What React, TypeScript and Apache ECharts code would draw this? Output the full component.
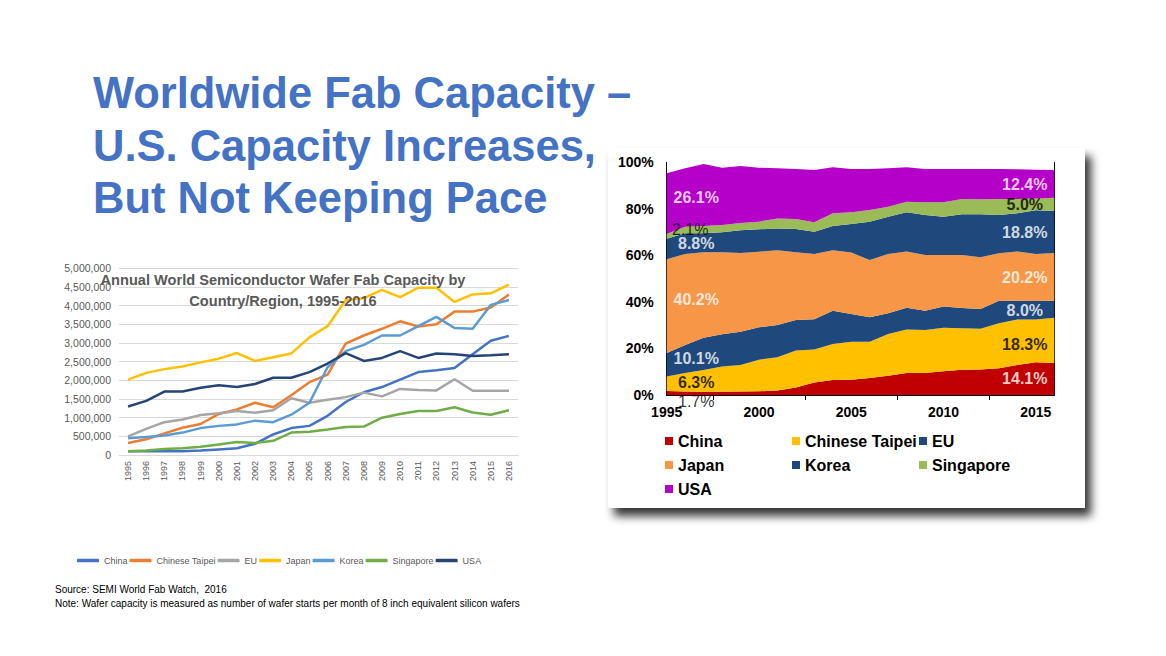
import React, { useEffect, useRef } from 'react';
import * as echarts from 'echarts';

// ---------- Left chart: annual capacity (wafer starts / month) ----------
const years = ['1995','1996','1997','1998','1999','2000','2001','2002','2003','2004','2005','2006','2007','2008','2009','2010','2011','2012','2013','2014','2015','2016'];
const regions = ['China','Chinese Taipei','EU','Japan','Korea','Singapore','USA'];
const capChina = [100000,100000,100000,100000,120000,150000,180000,300000,550000,720000,780000,1050000,1420000,1680000,1820000,2020000,2220000,2270000,2330000,2700000,3060000,3190000];
const capTaipei = [320000,420000,580000,730000,830000,1100000,1220000,1400000,1280000,1600000,1950000,2150000,2980000,3200000,3380000,3580000,3440000,3500000,3840000,3840000,3950000,4300000];
const capEU = [500000,700000,880000,950000,1070000,1120000,1180000,1130000,1200000,1520000,1400000,1480000,1550000,1670000,1570000,1770000,1740000,1730000,2030000,1720000,1720000,1720000];
const capJapan = [2020000,2200000,2300000,2370000,2480000,2580000,2730000,2520000,2620000,2720000,3150000,3450000,4150000,4200000,4420000,4230000,4480000,4480000,4100000,4300000,4330000,4560000];
const capKorea = [450000,480000,520000,600000,720000,780000,820000,920000,880000,1080000,1400000,2350000,2780000,2950000,3200000,3200000,3450000,3700000,3400000,3380000,4020000,4150000];
const capSingapore = [100000,120000,160000,180000,220000,280000,350000,320000,380000,600000,620000,680000,750000,760000,1000000,1100000,1180000,1180000,1280000,1140000,1080000,1200000];
const capUSA = [1300000,1450000,1700000,1700000,1800000,1870000,1820000,1900000,2070000,2070000,2220000,2450000,2730000,2520000,2600000,2780000,2600000,2720000,2700000,2650000,2670000,2700000];

// ---------- Right chart: share of worldwide capacity (%) ----------
const shareYears = [1995,1996,1997,1998,1999,2000,2001,2002,2003,2004,2005,2006,2007,2008,2009,2010,2011,2012,2013,2014,2015,2016];
const shareChina = [1.7,1.5,1.4,1.4,1.5,1.6,1.9,3.2,5.4,6.4,6.6,7.3,8.3,9.5,9.5,10.2,10.9,11.0,11.5,12.9,14.1,13.8];
const shareTaipei = [6.3,8.0,9.3,10.8,11.4,13.6,14.3,15.9,14.1,15.5,16.3,15.6,17.9,18.7,18.4,18.7,17.8,17.5,19.3,19.5,18.3,19.4];
const shareEU = [10.1,12.0,13.9,13.9,14.3,13.9,13.9,13.1,13.0,14.3,11.9,10.5,8.9,9.3,8.3,9.1,8.7,8.5,9.7,8.1,8.0,7.3];
const shareJapan = [40.2,39.1,36.7,35.2,33.8,32.5,32.1,29.1,28.1,26.0,26.4,24.6,25.5,24.2,24.0,22.2,22.8,22.2,20.4,21.2,20.2,20.5];
const shareKorea = [8.8,8.9,8.2,8.6,9.8,9.6,9.4,10.0,9.6,10.4,12.3,16.5,16.0,16.8,17.2,16.4,17.5,18.5,16.5,16.4,18.8,18.1];
const shareSingapore = [2.1,2.8,3.1,3.2,3.1,3.3,4.3,4.3,4.0,5.5,5.0,5.0,4.3,4.6,5.4,6.2,6.5,6.4,6.8,6.1,5.0,5.7];
const shareUSA = [26.1,25.1,26.7,24.6,24.5,23.2,21.5,21.5,22.5,19.8,18.6,17.6,16.5,14.8,14.3,14.3,12.9,13.0,12.9,12.8,12.4,11.9];

const FONT = '"Liberation Sans", Arial, sans-serif';

export default function App() {
  const leftRef = useRef<HTMLDivElement>(null);
  const rightRef = useRef<HTMLDivElement>(null);

  useEffect(() => {
    document.body.style.margin = '0';
    const c1 = echarts.init(leftRef.current!, null, { renderer: 'svg' });
    const c2 = echarts.init(rightRef.current!, null, { renderer: 'svg' });

    const lineColors = ['#4472C4', '#ED7D31', '#A5A5A5', '#FFC000', '#5B9BD5', '#70AD47', '#264478'];
    const capSeries = [capChina, capTaipei, capEU, capJapan, capKorea, capSingapore, capUSA];

    c1.setOption({
      animation: false,
      textStyle: { fontFamily: FONT },
      grid: { left: 119, top: 268.3, width: 399, height: 186.7 },
      xAxis: {
        type: 'category',
        data: years,
        axisLine: { lineStyle: { color: '#D9D9D9' } },
        axisTick: { show: false },
        axisLabel: { rotate: 90, fontSize: 9, color: '#595959', margin: 6, fontFamily: FONT },
      },
      yAxis: {
        type: 'value',
        min: 0,
        max: 5000000,
        interval: 500000,
        axisLine: { show: false },
        axisTick: { show: false },
        axisLabel: {
          fontSize: 10.5,
          color: '#595959',
          margin: 8,
          fontFamily: FONT,
          formatter: (v: number) => v.toLocaleString('en-US'),
        },
        splitLine: { lineStyle: { color: '#D9D9D9' } },
      },
      legend: {
        left: 72,
        top: 551,
        icon: 'roundRect',
        itemWidth: 22,
        itemHeight: 3.5,
        itemGap: 2,
        data: regions,
        textStyle: { fontSize: 9, color: '#595959', fontFamily: FONT },
      },
      series: regions.map((name, k) => ({
        name,
        type: 'line',
        data: capSeries[k],
        symbol: 'none',
        lineStyle: { width: 2.5, color: lineColors[k] },
        itemStyle: { color: lineColors[k] },
        emphasis: { disabled: true },
      })),
      graphic: [
        { type: 'text', x: 93, y: 93, z: 100, style: { text: 'Worldwide Fab Capacity –', font: `bold 43.5px ${FONT}`, fill: '#4472C4', verticalAlign: 'middle' } },
        { type: 'text', x: 93, y: 146, z: 100, style: { text: 'U.S. Capacity Increases,', font: `bold 43.5px ${FONT}`, fill: '#4472C4', verticalAlign: 'middle' } },
        { type: 'text', x: 93, y: 198, z: 100, style: { text: 'But Not Keeping Pace', font: `bold 43.5px ${FONT}`, fill: '#4472C4', verticalAlign: 'middle' } },
        { type: 'text', x: 283, y: 280, z: 100, style: { text: 'Annual World Semiconductor Wafer Fab Capacity by', font: `bold 14.6px ${FONT}`, fill: '#595959', align: 'center', verticalAlign: 'middle' } },
        { type: 'text', x: 283, y: 301, z: 100, style: { text: 'Country/Region, 1995-2016', font: `bold 14.6px ${FONT}`, fill: '#595959', align: 'center', verticalAlign: 'middle' } },
        { type: 'text', x: 55, y: 589, z: 100, style: { text: 'Source: SEMI World Fab Watch,  2016', font: `10px ${FONT}`, fill: '#000', verticalAlign: 'middle' } },
        { type: 'text', x: 55, y: 603, z: 100, style: { text: 'Note: Wafer capacity is measured as number of wafer starts per month of 8 inch equivalent silicon wafers', font: `10px ${FONT}`, fill: '#000', verticalAlign: 'middle' } },
      ],
    });

    // ---------- Right chart ----------
    const areaColors = ['#C00000', '#FFC000', '#1F497D', '#F79646', '#1F497D', '#9BBB59', '#B400C8'];
    const shareSeries = [shareChina, shareTaipei, shareEU, shareJapan, shareKorea, shareSingapore, shareUSA];
    const midAt = (k: number, i: number) => {
      let base = 0;
      for (let j = 0; j < k; j++) base += shareSeries[j][i];
      return base + shareSeries[k][i] / 2;
    };
    const leftColors = ['#000', '#000', '#fff', '#fff', '#fff', '#000', '#fff'];
    const rightColors = ['#fff', '#000', '#fff', '#fff', '#fff', '#000', '#fff'];
    const firstIdx = 0;
    const lastLabelIdx = shareYears.indexOf(2015);
    const labelData: any[] = [];
    regions.forEach((_, k) => {
      labelData.push({
        name: shareSeries[k][firstIdx].toFixed(1) + '%',
        value: [shareYears[firstIdx] + 1.6, midAt(k, firstIdx + 1)],
        label: {
          color: leftColors[k],
          fontWeight: k === 0 || k === 5 ? 'normal' : 'bold',
          offset: k === 0 ? [0, 8] : k === 5 ? [-6, -1] : [0, 0],
        },
      });
      labelData.push({
        name: shareSeries[k][lastLabelIdx].toFixed(1) + '%',
        value: [shareYears[lastLabelIdx] - 0.6, midAt(k, lastLabelIdx)],
        label: { color: rightColors[k], fontWeight: 'bold', offset: k === 1 ? [0, 4] : [0, 0] },
      });
    });

    const legendCommon = {
      orient: 'vertical',
      icon: 'rect',
      itemWidth: 8,
      itemHeight: 8,
      itemGap: 8,
      textStyle: { fontSize: 16, fontWeight: 'bold', color: '#000', fontFamily: FONT },
    };

    c2.setOption({
      animation: false,
      textStyle: { fontFamily: FONT },
      grid: { left: 666.7, top: 162.3, width: 387.6, height: 232.7 },
      xAxis: [
        {
          type: 'category',
          data: shareYears.map(String),
          boundaryGap: false,
          axisLine: { lineStyle: { color: '#000' } },
          axisTick: { show: false },
          axisLabel: { interval: 4, fontSize: 14, fontWeight: 'bold', color: '#000', margin: 10, fontFamily: FONT },
          splitLine: { show: false },
        },
        {
          type: 'value',
          position: 'top',
          min: 1995,
          max: 2016,
          interval: 5,
          axisLine: { lineStyle: { color: '#000' } },
          axisTick: { show: true, inside: true, length: 5, lineStyle: { color: '#000' }, customValues: [1997.5, 2002.5, 2007.5, 2012.5] },
          axisLabel: { show: false },
          splitLine: { show: false },
        },
        {
          type: 'value',
          position: 'bottom',
          min: 1995,
          max: 2016,
          show: false,
        },
      ],
      yAxis: [
        {
          type: 'value',
          min: 0,
          max: 100,
          interval: 20,
          axisLine: { show: true, lineStyle: { color: '#000' } },
          axisTick: { show: false },
          axisLabel: { formatter: '{value}%', fontSize: 14, fontWeight: 'bold', color: '#000', margin: 13, fontFamily: FONT },
          splitLine: { show: false },
        },
        {
          type: 'value',
          position: 'right',
          min: 0,
          max: 100,
          interval: 20,
          axisLine: { show: true, lineStyle: { color: '#000' } },
          axisTick: { show: false },
          axisLabel: { show: false },
          splitLine: { show: false },
        },
      ],
      legend: [
        { ...legendCommon, left: 660, top: 428, data: ['China', 'Japan', 'USA'] },
        { ...legendCommon, left: 787, top: 428, data: ['Chinese Taipei', 'Korea'] },
        { ...legendCommon, left: 914, top: 428, data: ['EU', 'Singapore'] },
      ],
      series: [
        ...regions.map((name, k) => ({
          name,
          type: 'line',
          stack: 'share',
          xAxisIndex: 0,
          yAxisIndex: 0,
          data: shareSeries[k],
          symbol: 'none',
          lineStyle: { width: 0 },
          areaStyle: { color: areaColors[k], opacity: 1 },
          itemStyle: { color: areaColors[k] },
          emphasis: { disabled: true },
          z: 2,
        })),
        {
          type: 'scatter',
          name: 'labels',
          xAxisIndex: 2,
          yAxisIndex: 0,
          data: labelData,
          symbol: 'circle',
          symbolSize: 1,
          itemStyle: { color: 'rgba(0,0,0,0)' },
          label: {
            show: true,
            position: 'inside',
            formatter: '{b}',
            fontSize: 16,
            fontFamily: FONT,
            textBorderWidth: 0,
            textBorderColor: 'transparent',
          },
          emphasis: { disabled: true },
          z: 5,
        },
      ],
      graphic: [
        {
          type: 'rect',
          z: -10,
          shape: { x: 608, y: 148, width: 477, height: 360 },
          style: { fill: '#fff', shadowBlur: 10, shadowOffsetX: 6, shadowOffsetY: 8, shadowColor: 'rgba(0,0,0,0.8)' },
        },
      ],
    });

    return () => {
      c1.dispose();
      c2.dispose();
    };
  }, []);

  return (
    <div style={{ position: 'fixed', left: 0, top: 0, width: 1166, height: 656, background: '#fff' }}>
      <div ref={leftRef} style={{ position: 'absolute', left: 0, top: 0, width: 1166, height: 656 }} />
      <div ref={rightRef} style={{ position: 'absolute', left: 0, top: 0, width: 1166, height: 656 }} />
    </div>
  );
}
